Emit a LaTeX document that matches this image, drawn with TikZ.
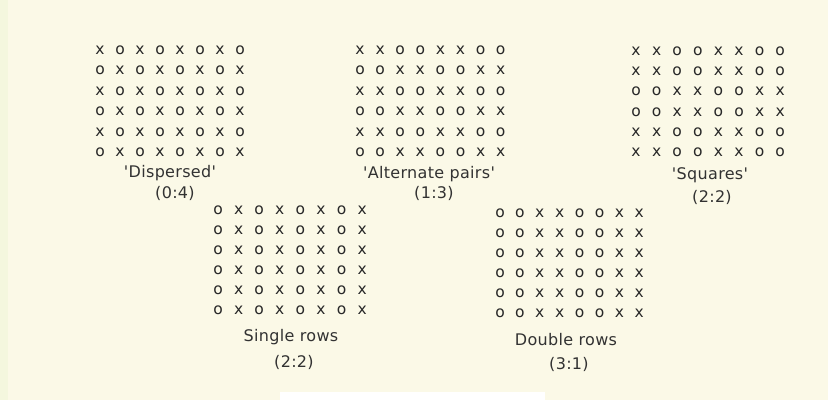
\documentclass[tikz,border=0pt]{standalone}
\usepackage{fontspec}
\newfontfamily\labfont[LetterSpace=2]{DejaVu Sans}
\newfontfamily\cellfont{DejaVu Sans}
\definecolor{paper}{RGB}{251,249,231}
\definecolor{edge}{RGB}{244,247,222}
\definecolor{ink}{RGB}{40,40,40}
\definecolor{labink}{RGB}{50,50,50}
\tikzset{
  cell/.style={inner sep=0pt, font=\cellfont\fontsize{15.5}{15}\selectfont, text=ink},
  caption/.style={inner sep=0pt, font=\labfont\fontsize{16}{18}\selectfont, text=labink}
}
\newcommand\mygrid[6]{% name, x0, y0, dx, dy, rows
  \foreach \row [count=\r] in {#6} {
    \foreach \c [count=\k] in \row {
      \node[cell] (#1-\r-\k) at ({#2+#4*(\k-1)}, {#3+#5*(\r-1)}) {\c};
    }
  }
}
\begin{document}
\begin{tikzpicture}[x=1pt,y=-1pt]
\fill[paper] (0,0) rectangle (828,400);
\fill[edge] (0,0) rectangle (8,400);
\fill[white] (280,392) rectangle (545,400);
\useasboundingbox (0,0) rectangle (828,400);

% Dispersed
\mygrid{a}{100}{50}{20}{20.5}{{x,o,x,o,x,o,x,o},{o,x,o,x,o,x,o,x},{x,o,x,o,x,o,x,o},{o,x,o,x,o,x,o,x},{x,o,x,o,x,o,x,o},{o,x,o,x,o,x,o,x}}
\node[caption] (a-lab) at (170,173) {'Dispersed'};
\node[caption] (a-rat) at (175,193) {(0:4)};

% Alternate pairs
\mygrid{b}{360}{50}{20.1}{20.5}{{x,x,o,o,x,x,o,o},{o,o,x,x,o,o,x,x},{x,x,o,o,x,x,o,o},{o,o,x,x,o,o,x,x},{x,x,o,o,x,x,o,o},{o,o,x,x,o,o,x,x}}
\node[caption] (b-lab) at (429,174) {'Alternate pairs'};
\node[caption] (b-rat) at (434,193) {(1:3)};

% Squares
\mygrid{c}{636}{51}{20.6}{20.3}{{x,x,o,o,x,x,o,o},{x,x,o,o,x,x,o,o},{o,o,x,x,o,o,x,x},{o,o,x,x,o,o,x,x},{x,x,o,o,x,x,o,o},{x,x,o,o,x,x,o,o}}
\node[caption] (c-lab) at (710,175) {'Squares'};
\node[caption] (c-rat) at (712,197) {(2:2)};

% Single rows
\mygrid{d}{218}{210}{20.6}{20}{{o,x,o,x,o,x,o,x},{o,x,o,x,o,x,o,x},{o,x,o,x,o,x,o,x},{o,x,o,x,o,x,o,x},{o,x,o,x,o,x,o,x},{o,x,o,x,o,x,o,x}}
\node[caption] (d-lab) at (291,337) {Single rows};
\node[caption] (d-rat) at (294,362) {(2:2)};

% Double rows
\mygrid{e}{500}{213}{19.9}{20}{{o,o,x,x,o,o,x,x},{o,o,x,x,o,o,x,x},{o,o,x,x,o,o,x,x},{o,o,x,x,o,o,x,x},{o,o,x,x,o,o,x,x},{o,o,x,x,o,o,x,x}}
\node[caption] (e-lab) at (566,340) {Double rows};
\node[caption] (e-rat) at (569,364) {(3:1)};
\end{tikzpicture}
\end{document}
